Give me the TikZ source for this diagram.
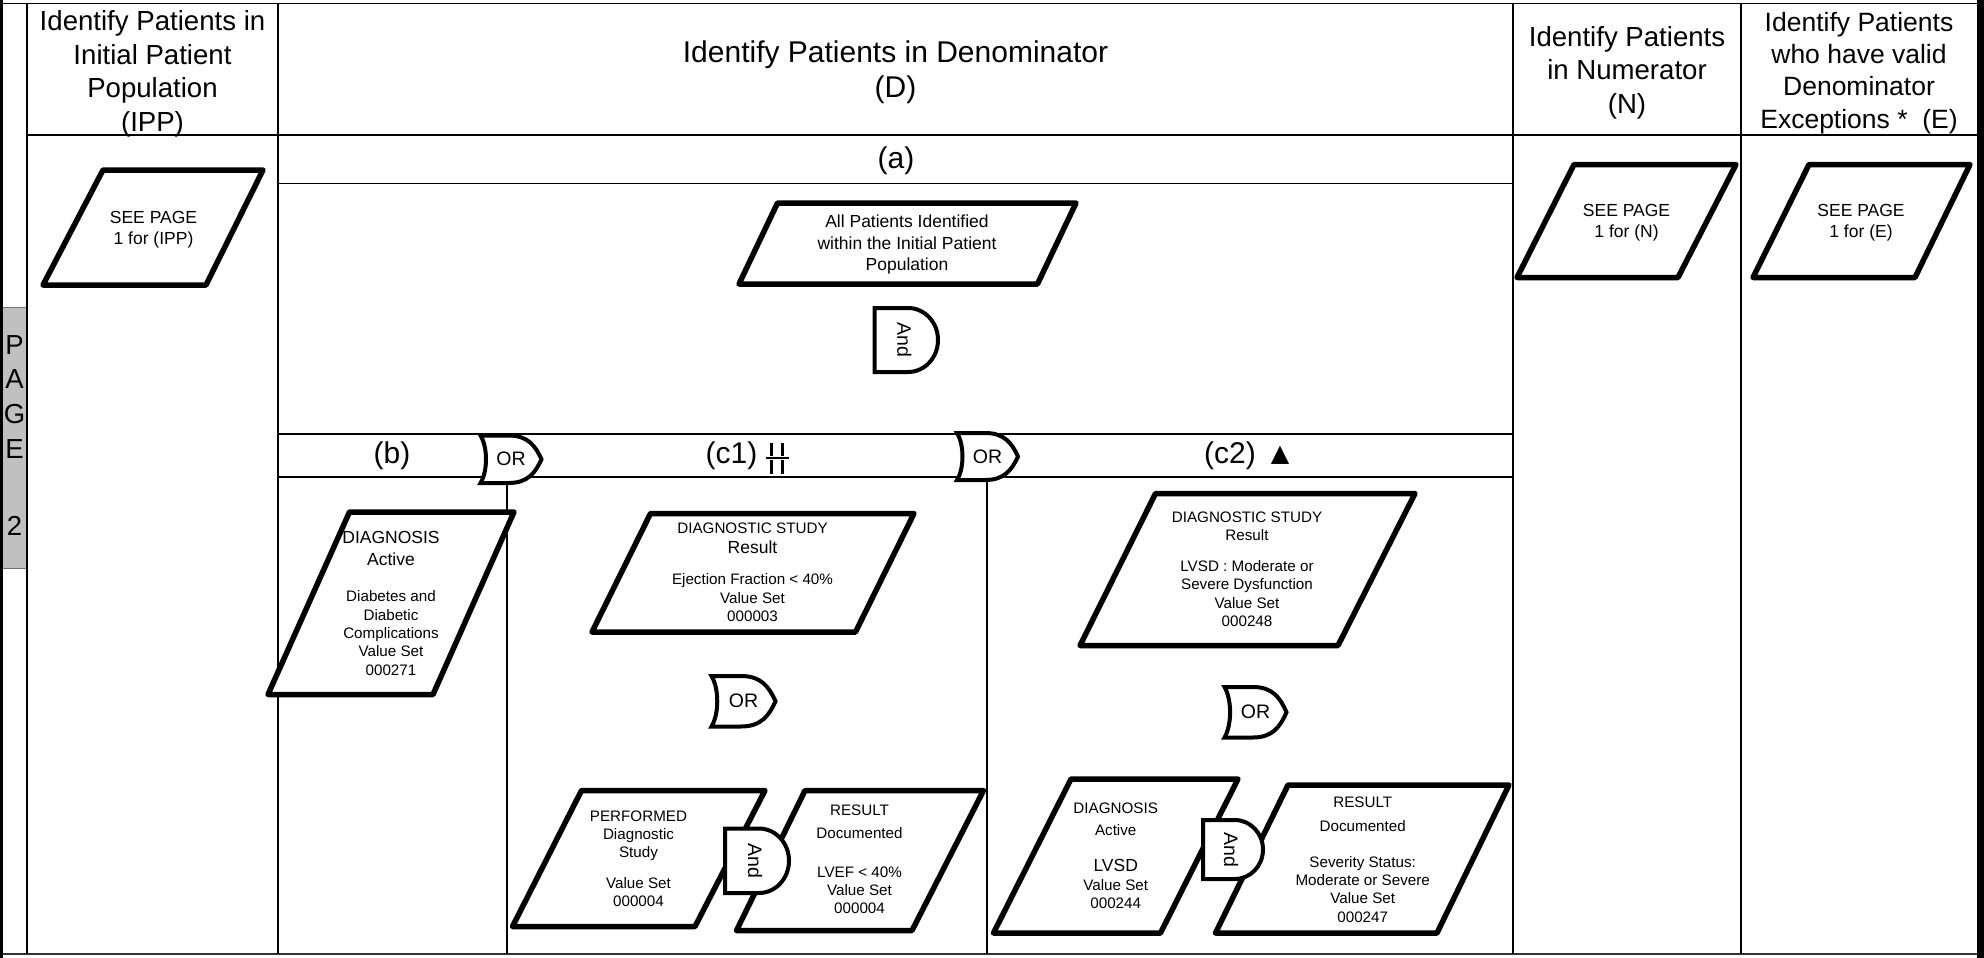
\documentclass[tikz,border=0pt]{standalone}
\usepackage{fontspec}
\setmainfont{Liberation Sans}
\newfontfamily\symfont{DejaVu Sans}
% type sizes (1pt = one unit of the drawing grid)
\newcommand\fsHead{\fontsize{27.6}{33.8}\selectfont}
\newcommand\fsHeadE{\fontsize{26.5}{32.2}\selectfont}
\newcommand\fsBand{\fontsize{30}{35}\selectfont}
\newcommand\fsTab{\fontsize{27.5}{34.7}\selectfont}
\newcommand\fsMid{\fontsize{17.5}{21.3}\selectfont}
\newcommand\fsSmall{\fontsize{15.2}{18.3}\selectfont}
\newcommand\fsGate{\fontsize{19.5}{22}\selectfont}
\definecolor{tabgray}{HTML}{C0C0C0}

% data box: corners top-left x, top-right x, bottom-left x, bottom-right x, top y, bottom y
\newcommand\ioshape[6]{\draw[io] (#1,#5) -- (#2,#5) -- (#4,#6) -- (#3,#6) -- cycle;}

% OR connector: name, left x, top y, width, height
\newcommand\orgate[5]{%
  \pgfmathsetmacro\gxa{#2}\pgfmathsetmacro\gya{#3}%
  \pgfmathsetmacro\gw{#4}\pgfmathsetmacro\gh{#5}%
  \pgfmathsetmacro\gxb{\gxa+\gw}\pgfmathsetmacro\gyb{\gya+\gh}%
  \pgfmathsetmacro\gym{\gya+\gh/2}%
  \draw[gate] (\gxa,\gya) -- ({\gxa+0.46*\gw},\gya)
    .. controls ({\gxa+0.78*\gw},\gya) and ({\gxb-0.1*\gw},{\gym-0.28*\gh}) .. (\gxb,\gym)
    .. controls ({\gxb-0.1*\gw},{\gym+0.28*\gh}) and ({\gxa+0.78*\gw},\gyb) .. ({\gxa+0.46*\gw},\gyb)
    -- (\gxa,\gyb)
    .. controls ({\gxa+0.12*\gw},{\gym+0.25*\gh}) and ({\gxa+0.12*\gw},{\gym-0.25*\gh}) .. (\gxa,\gya) -- cycle;
  \node[gtxt] (#1) at ({\gxa+0.5*\gw},\gym) {OR};}

% AND connector: name, left x, top y, width, height
\newcommand\andgate[5]{%
  \pgfmathsetmacro\gxa{#2}\pgfmathsetmacro\gya{#3}%
  \pgfmathsetmacro\gw{#4}\pgfmathsetmacro\gh{#5}%
  \pgfmathsetmacro\gxb{\gxa+\gw}\pgfmathsetmacro\gyb{\gya+\gh}%
  \pgfmathsetmacro\gym{\gya+\gh/2}%
  \pgfmathsetmacro\grx{0.47*\gw}\pgfmathsetmacro\gxf{\gxb-\grx}%
  \draw[gate] (\gxa,\gya) -- (\gxf,\gya)
    .. controls ({\gxf+0.5523*\grx},\gya) and (\gxb,{\gym-0.5523*\gh/2}) .. (\gxb,\gym)
    .. controls (\gxb,{\gym+0.5523*\gh/2}) and ({\gxf+0.5523*\grx},\gyb) .. (\gxf,\gyb)
    -- (\gxa,\gyb) -- cycle;
  \node[gtxt,rotate=-90] (#1) at ({\gxa+0.47*\gw},\gym) {And};}

\begin{document}
\begin{tikzpicture}[x=1pt,y=-1pt,
  rule/.style={line width=1.8pt,black},
  io/.style={line width=5.5pt,line join=round,fill=white,draw=black},
  gate/.style={line width=4pt,fill=white,draw=black},
  head/.style={align=center,inner sep=0pt,anchor=north,font=\fsHead},
  band/.style={inner sep=0pt,font=\fsBand},
  txt/.style={align=center,inner sep=0pt,anchor=north,font=\fsSmall},
  gtxt/.style={inner sep=0pt,font=\fsGate}]

\useasboundingbox (0,0) rectangle (1984,958);
\fill[white] (0,0) rectangle (1984,958);

% ---- page tab on the left edge
\draw[fill=tabgray,draw=black!55,line width=1pt] (2,307.5) rectangle (27,568);
\node[align=center,inner sep=0pt,anchor=north,font=\fsTab] (tab) at (14.5,335)
  {P\\A\\G\\E\\[43pt]2};

% ---- table rules
\draw[rule] (0,3.5) -- (1984,3.5);
\draw[black!80,line width=2.2pt] (0,954) -- (1984,954);
\draw[black,line width=3pt] (1.5,0) -- (1.5,958);
\draw[black,line width=7pt] (1980.5,0) -- (1980.5,958);
\draw[rule] (27,3.5) -- (27,954);
\draw[rule] (278,3.5) -- (278,954);
\draw[rule] (1513,3.5) -- (1513,954);
\draw[rule] (1741,3.5) -- (1741,954);
\draw[rule] (27,135) -- (1977,135);
\draw[rule] (278,183.5) -- (1513,183.5);
\draw[rule] (278,434) -- (1513,434);
\draw[rule] (278,477) -- (1513,477);
\draw[rule] (507,477) -- (507,954);
\draw[rule] (987,477) -- (987,954);

% ---- column headings
\node[head] (hipp) at (152.5,10) {Identify Patients in\\Initial Patient\\Population\\(IPP)};
\node[head,font=\fsBand] (hden) at (895.5,40.5) {Identify Patients in Denominator\\(D)};
\node[head] (hnum) at (1627,26) {Identify Patients\\in Numerator\\(N)};
\node[head,font=\fsHeadE] (hexc) at (1859,12) {Identify Patients\\who have valid\\Denominator\\Exceptions *\ \ (E)};

% ---- band labels
\node[band] (la) at (896,160.5) {(a)};
\node[band] (lb) at (392,456) {(b)};
\node[band] (lc1) at (731.5,456) {(c1)};
\draw[line width=2.8pt]
  (771.7,443) -- (771.7,456.3) (782.7,443) -- (782.7,456.3)
  (766,458) -- (788.5,458)
  (771.7,459.7) -- (771.7,473.5) (782.7,459.7) -- (782.7,473.5);
\node[band] (lc2) at (1230,456) {(c2)};
\node[band,font=\symfont\fontsize{24}{28}\selectfont] (tri) at (1280,455) {▲};

% ---- reference boxes
\ioshape{103}{263}{43}{206}{170}{285}
\node[txt,font=\fsMid] (tipp) at (153.5,211) {SEE PAGE\\1 for (IPP)};
\ioshape{1574}{1736}{1517}{1678}{164.5}{277.5}
\node[txt,font=\fsMid] (tnum) at (1626.5,204) {SEE PAGE\\1 for (N)};
\ioshape{1809}{1970}{1753}{1915}{164.5}{277.5}
\node[txt,font=\fsMid] (texc) at (1861,204) {SEE PAGE\\1 for (E)};

% ---- (a)
\ioshape{777.5}{1076}{739}{1037.5}{203}{284}
\node[txt,font=\fsMid] (tall) at (907,215) {All Patients Identified\\within the Initial Patient\\Population};
\andgate{anda}{874.5}{308}{63.5}{64}

% ---- (b)
\ioshape{349.5}{514}{268}{433}{512}{694.5}
\node[txt] (tdiab) at (391,531)
  {{\fsMid DIAGNOSIS}\\[3.3pt]{\fsMid Active}\\[18.6pt]Diabetes and\\Diabetic\\Complications\\Value Set\\000271};

% ---- (c1)
\ioshape{650.5}{914}{592}{855.5}{513.5}{632}
\node[txt] (tef) at (752.5,522.5)
  {DIAGNOSTIC STUDY\\[2.3pt]{\fsMid Result}\\[12.7pt]Ejection Fraction < 40\%\\Value Set\\000003};
\orgate{orc1}{711.5}{676}{64}{50.5}
\ioshape{581.5}{765}{512.5}{695}{790.5}{926.5}
\node[txt] (tperf) at (638.5,810.2)
  {PERFORMED\\Diagnostic\\Study\\[12.6pt]Value Set\\000004};
\ioshape{805}{983.5}{736.5}{912}{790.5}{930.5}
\node[txt] (tlvef) at (859.5,805)
  {RESULT\\[4.7pt]Documented\\[20.2pt]LVEF < 40\%\\Value Set\\000004};
\andgate{andc1}{725}{828.5}{64}{64.5}

% ---- (c2)
\ioshape{1155.5}{1415}{1080}{1338}{493.5}{645.5}
\node[txt] (tlvsd) at (1247,511.5)
  {DIAGNOSTIC STUDY\\Result\\[12.5pt]LVSD : Moderate or\\Severe Dysfunction\\Value Set\\000248};
\orgate{orc2}{1224.5}{687}{62}{50.5}
\ioshape{1071}{1238}{993.5}{1160.5}{779}{933}
\node[txt] (tdx) at (1115.7,803)
  {DIAGNOSIS\\[3.2pt]Active\\[17.6pt]{\fsMid LVSD}\\[0.8pt]Value Set\\000244};
\ioshape{1288}{1509}{1215.5}{1437}{785}{933}
\node[txt] (tsev) at (1362.7,797)
  {RESULT\\[5.8pt]Documented\\[17pt]Severity Status:\\Moderate or Severe\\Value Set\\000247};
\andgate{andc2}{1203}{820}{60}{59}

% ---- OR connectors on the band
\orgate{orb}{480.5}{435.5}{61}{47.5}
\orgate{orc}{957}{433}{61}{47}

\end{tikzpicture}
\end{document}
